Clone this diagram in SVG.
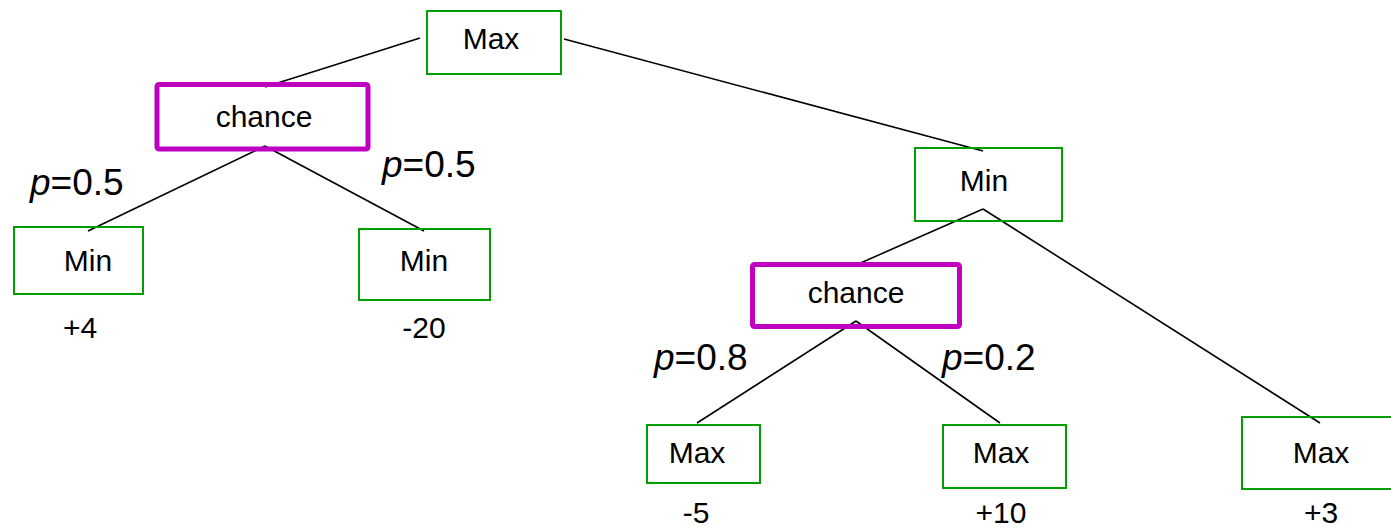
<svg xmlns="http://www.w3.org/2000/svg" width="1391" height="529" viewBox="0 0 1391 529">
  <style>
    .edge { stroke: #000; stroke-width: 1.6; fill: none; }
    .player { fill: none; stroke: #00a000; stroke-width: 2; }
    .chance { fill: none; stroke: #c000c0; stroke-width: 5; }
    text { font-family: "Liberation Sans", Arial, sans-serif; font-size: 30px; fill: #000; }
    .mid { text-anchor: middle; }
    .prob { font-size: 37px; }
    .prob tspan.p { font-style: italic; }
  </style>
  <rect width="1391" height="529" fill="#fff"/>

  <!-- tree edges -->
  <g id="connectors">
    <line class="edge" x1="420" y1="38" x2="265" y2="87"/>
    <line class="edge" x1="564" y1="39" x2="983" y2="151"/>
    <line class="edge" x1="265" y1="146" x2="88" y2="231"/>
    <line class="edge" x1="265" y1="146" x2="424" y2="231"/>
    <line class="edge" x1="983" y1="209" x2="856" y2="265"/>
    <line class="edge" x1="983" y1="209" x2="1320" y2="423"/>
    <line class="edge" x1="856" y1="321" x2="697" y2="423"/>
    <line class="edge" x1="856" y1="321" x2="1000" y2="423"/>
  </g>

  <g id="root-max">
    <rect class="player" x="427" y="11" width="134" height="63"/>
    <text class="mid" x="491" y="49">Max</text>
  </g>

  <g id="chance-left">
    <rect class="chance" x="157" y="84.5" width="211" height="64.5" rx="2"/>
    <text class="mid" x="264" y="127">chance</text>
  </g>

  <g id="min-left">
    <rect class="player" x="14" y="227" width="129" height="67"/>
    <text class="mid" x="88" y="271">Min</text>
    <text class="mid" x="80" y="338">+4</text>
  </g>

  <g id="min-mid">
    <rect class="player" x="359" y="229" width="131" height="71"/>
    <text class="mid" x="424" y="271">Min</text>
    <text class="mid" x="424" y="338">-20</text>
  </g>

  <g id="min-right">
    <rect class="player" x="915" y="148" width="147" height="73"/>
    <text class="mid" x="984" y="191">Min</text>
  </g>

  <g id="chance-right">
    <rect class="chance" x="752.5" y="264.5" width="207" height="62" rx="2"/>
    <text class="mid" x="856" y="303">chance</text>
  </g>

  <g id="max-a">
    <rect class="player" x="647" y="425" width="113" height="58"/>
    <text class="mid" x="697" y="463">Max</text>
    <text class="mid" x="696" y="523">-5</text>
  </g>

  <g id="max-b">
    <rect class="player" x="943" y="425" width="123" height="63"/>
    <text class="mid" x="1001" y="463">Max</text>
    <text class="mid" x="1001" y="523">+10</text>
  </g>

  <g id="max-c">
    <rect class="player" x="1242" y="417" width="152" height="72"/>
    <text class="mid" x="1321" y="463">Max</text>
    <text class="mid" x="1321" y="523">+3</text>
  </g>

  <!-- branch probabilities -->
  <g id="probabilities">
    <text class="prob" x="30" y="195"><tspan class="p">p</tspan>=0.5</text>
    <text class="prob" x="382" y="177"><tspan class="p">p</tspan>=0.5</text>
    <text class="prob" x="654" y="370"><tspan class="p">p</tspan>=0.8</text>
    <text class="prob" x="942" y="370"><tspan class="p">p</tspan>=0.2</text>
  </g>
</svg>
